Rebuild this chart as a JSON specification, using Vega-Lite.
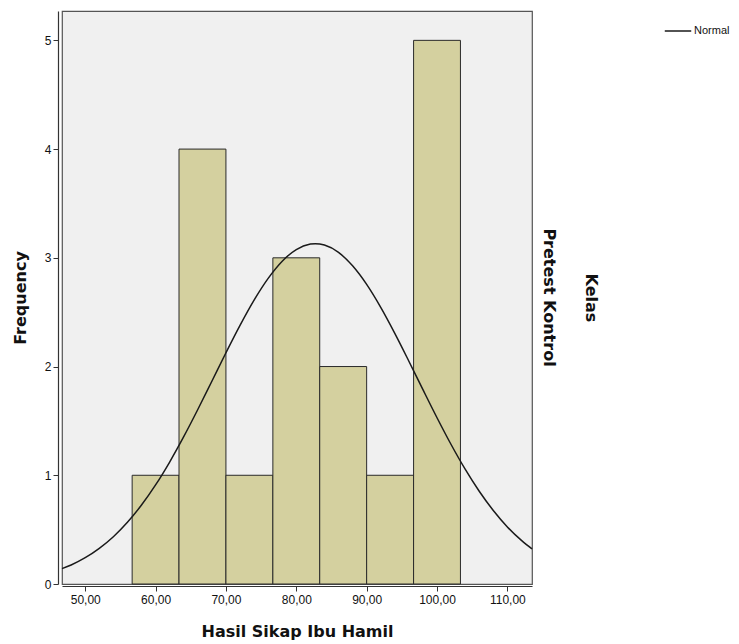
{
  "$schema": "https://vega.github.io/schema/vega-lite/v6.json",
  "description": "Histogram of Hasil Sikap Ibu Hamil with normal curve, Kelas = Pretest Kontrol.",
  "padding": {"left": 12, "top": 10, "right": 5, "bottom": 5},
  "background": "white",
  "data": {
    "values": [
      {"Kelas": "Pretest Kontrol", "lo": 56.67, "hi": 63.33, "count": 1},
      {"Kelas": "Pretest Kontrol", "lo": 63.33, "hi": 70.0, "count": 4},
      {"Kelas": "Pretest Kontrol", "lo": 70.0, "hi": 76.67, "count": 1},
      {"Kelas": "Pretest Kontrol", "lo": 76.67, "hi": 83.33, "count": 3},
      {"Kelas": "Pretest Kontrol", "lo": 83.33, "hi": 90.0, "count": 2},
      {"Kelas": "Pretest Kontrol", "lo": 90.0, "hi": 96.67, "count": 1},
      {"Kelas": "Pretest Kontrol", "lo": 96.67, "hi": 103.33, "count": 5},
      {"Kelas": "Pretest Kontrol", "score": 46.7, "normal": 0.141},
      {"Kelas": "Pretest Kontrol", "score": 48, "normal": 0.175},
      {"Kelas": "Pretest Kontrol", "score": 50, "normal": 0.242},
      {"Kelas": "Pretest Kontrol", "score": 52, "normal": 0.328},
      {"Kelas": "Pretest Kontrol", "score": 54, "normal": 0.435},
      {"Kelas": "Pretest Kontrol", "score": 56, "normal": 0.568},
      {"Kelas": "Pretest Kontrol", "score": 58, "normal": 0.726},
      {"Kelas": "Pretest Kontrol", "score": 60, "normal": 0.911},
      {"Kelas": "Pretest Kontrol", "score": 62, "normal": 1.122},
      {"Kelas": "Pretest Kontrol", "score": 64, "normal": 1.355},
      {"Kelas": "Pretest Kontrol", "score": 66, "normal": 1.605},
      {"Kelas": "Pretest Kontrol", "score": 68, "normal": 1.865},
      {"Kelas": "Pretest Kontrol", "score": 70, "normal": 2.127},
      {"Kelas": "Pretest Kontrol", "score": 72, "normal": 2.379},
      {"Kelas": "Pretest Kontrol", "score": 74, "normal": 2.611},
      {"Kelas": "Pretest Kontrol", "score": 76, "normal": 2.811},
      {"Kelas": "Pretest Kontrol", "score": 78, "normal": 2.969},
      {"Kelas": "Pretest Kontrol", "score": 80, "normal": 3.076},
      {"Kelas": "Pretest Kontrol", "score": 82, "normal": 3.126},
      {"Kelas": "Pretest Kontrol", "score": 82.7, "normal": 3.13},
      {"Kelas": "Pretest Kontrol", "score": 84, "normal": 3.117},
      {"Kelas": "Pretest Kontrol", "score": 86, "normal": 3.05},
      {"Kelas": "Pretest Kontrol", "score": 88, "normal": 2.926},
      {"Kelas": "Pretest Kontrol", "score": 90, "normal": 2.755},
      {"Kelas": "Pretest Kontrol", "score": 92, "normal": 2.544},
      {"Kelas": "Pretest Kontrol", "score": 94, "normal": 2.305},
      {"Kelas": "Pretest Kontrol", "score": 96, "normal": 2.049},
      {"Kelas": "Pretest Kontrol", "score": 98, "normal": 1.787},
      {"Kelas": "Pretest Kontrol", "score": 100, "normal": 1.529},
      {"Kelas": "Pretest Kontrol", "score": 102, "normal": 1.283},
      {"Kelas": "Pretest Kontrol", "score": 104, "normal": 1.056},
      {"Kelas": "Pretest Kontrol", "score": 106, "normal": 0.853},
      {"Kelas": "Pretest Kontrol", "score": 108, "normal": 0.676},
      {"Kelas": "Pretest Kontrol", "score": 110, "normal": 0.525},
      {"Kelas": "Pretest Kontrol", "score": 112, "normal": 0.401},
      {"Kelas": "Pretest Kontrol", "score": 113.5, "normal": 0.323}
    ]
  },
  "facet": {
    "row": {
      "field": "Kelas",
      "type": "nominal",
      "title": "Kelas",
      "header": {
        "labelOrient": "right",
        "titleOrient": "right",
        "labelAngle": 90,
        "titleAngle": 90,
        "labelFont": "DejaVu Sans",
        "titleFont": "DejaVu Sans",
        "labelFontSize": 16,
        "titleFontSize": 16,
        "labelFontWeight": "bold",
        "titleFontWeight": "bold",
        "labelColor": "#111",
        "titleColor": "#111",
        "labelPadding": 5,
        "titlePadding": 16
      }
    }
  },
  "spec": {
    "width": 470,
    "height": 573,
    "layer": [
      {
        "transform": [{"filter": "isValid(datum.count)"}],
        "mark": {"type": "rect", "fill": "#d4d09f", "stroke": "#2a2a2a", "strokeWidth": 1},
        "encoding": {
          "x": {
            "field": "lo",
            "type": "quantitative",
            "title": "Hasil Sikap Ibu Hamil",
            "scale": {"domain": [46.7, 113.5], "nice": false, "zero": false},
            "axis": {
              "values": [50, 60, 70, 80, 90, 100, 110],
              "labelExpr": "replace(format(datum.value, '.2f'), '.', ',')",
              "grid": false,
              "tickSize": 5,
              "labelPadding": 3,
              "titlePadding": 18
            }
          },
          "x2": {"field": "hi"},
          "y": {
            "field": "count",
            "type": "quantitative",
            "title": "Frequency",
            "scale": {"domain": [0, 5.27], "nice": false},
            "axis": {
              "values": [0, 1, 2, 3, 4, 5],
              "format": "d",
              "grid": false,
              "tickSize": 5,
              "labelPadding": 2,
              "titlePadding": 16
            }
          },
          "y2": {"datum": 0}
        }
      },
      {
        "transform": [{"filter": "isValid(datum.normal)"}],
        "mark": {"type": "line", "strokeWidth": 1.5, "interpolate": "monotone"},
        "encoding": {
          "x": {"field": "score", "type": "quantitative"},
          "y": {"field": "normal", "type": "quantitative"},
          "color": {
            "datum": "Normal",
            "type": "nominal",
            "scale": {"range": ["#1a1a1a"]},
            "legend": {
              "title": null,
              "orient": "none",
              "legendX": 602,
              "legendY": 6,
              "symbolType": "stroke",
              "symbolSize": 700,
              "symbolStrokeWidth": 1.5,
              "labelFont": "Liberation Sans",
              "labelFontSize": 11,
              "labelColor": "#111",
              "labelOffset": 2
            }
          }
        }
      }
    ]
  },
  "config": {
    "view": {"fill": "#f0f0f0", "stroke": "#555", "strokeWidth": 1.2},
    "axis": {
      "domainColor": "#333",
      "domainWidth": 1.2,
      "tickColor": "#333",
      "labelFont": "Liberation Sans",
      "labelFontSize": 12,
      "labelColor": "#111",
      "titleFont": "DejaVu Sans",
      "titleFontSize": 16,
      "titleFontWeight": "bold",
      "titleColor": "#111"
    }
  }
}
